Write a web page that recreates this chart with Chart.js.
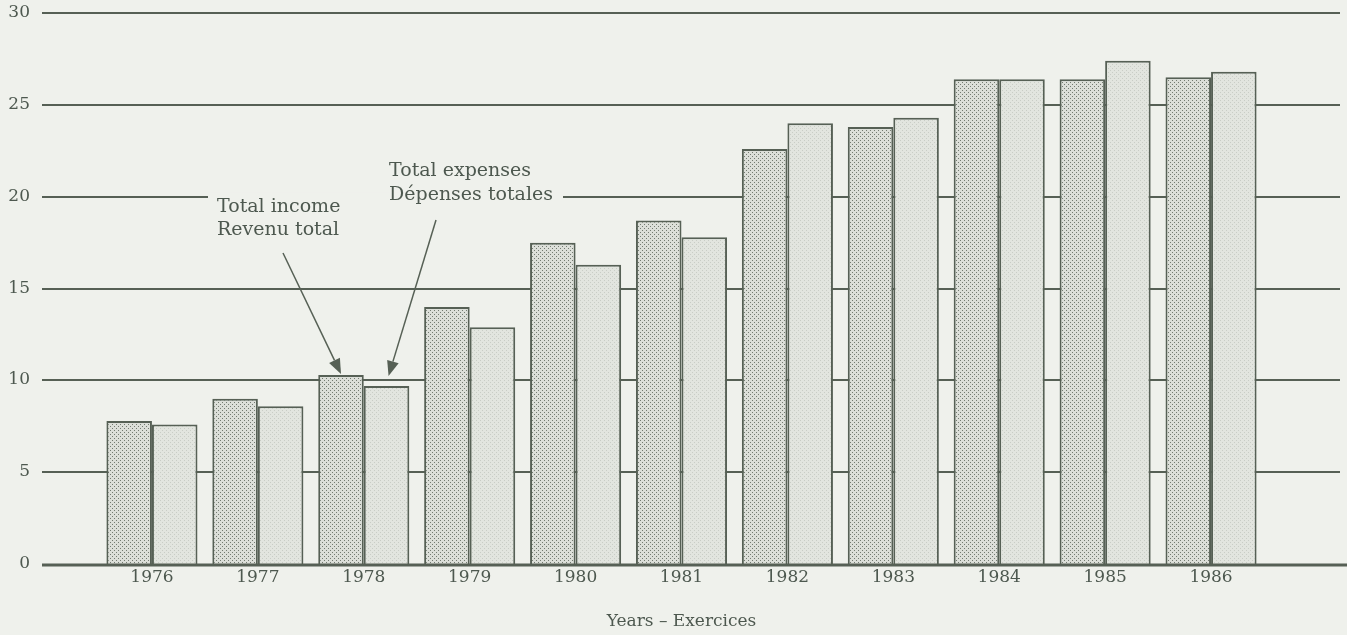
<!DOCTYPE html>
<html>
<head>
<meta charset="utf-8">
<script src="https://cdn.jsdelivr.net/npm/chart.js@4.4.0/dist/chart.umd.min.js"></script>
<style>
  html, body { margin: 0; padding: 0; background: #eff1ec; }
  canvas { display: block; }
</style>
</head>
<body>
<canvas id="chart" width="1347" height="635"></canvas>
<script>
const years = ['1976', '1977', '1978', '1979', '1980', '1981', '1982', '1983', '1984', '1985', '1986'];
const totalIncome = [7.8, 9.0, 10.3, 14.0, 17.5, 18.7, 22.6, 23.8, 26.4, 26.4, 26.5];
const totalExpenses = [7.6, 8.6, 9.7, 12.9, 16.3, 17.8, 24.0, 24.3, 26.4, 27.4, 26.8];
const incomeNote = ['Total income', 'Revenu total'];
const expensesNote = ['Total expenses', 'Dépenses totales'];
const axisTitle = 'Years – Exercices';

const INK = '#566055';
const TEXT = '#4d584f';
const PAPER = '#eff1ec';
const SERIF = '"DejaVu Serif", "Liberation Serif", serif';

const ctx = document.getElementById('chart').getContext('2d');

function dotPattern(base, dot) {
  const c = document.createElement('canvas');
  c.width = 4;
  c.height = 4;
  const g = c.getContext('2d');
  g.fillStyle = base;
  g.fillRect(0, 0, 4, 4);
  g.fillStyle = dot;
  g.fillRect(0, 0, 1, 1);
  g.fillRect(2, 2, 1, 1);
  return ctx.createPattern(c, 'repeat');
}

function arrow(g, x1, y1, x2, y2) {
  const ang = Math.atan2(y2 - y1, x2 - x1);
  const len = 15, half = 6;
  const bx = x2 - len * Math.cos(ang), by = y2 - len * Math.sin(ang);
  g.beginPath();
  g.moveTo(x1, y1);
  g.lineTo(bx, by);
  g.stroke();
  g.beginPath();
  g.moveTo(x2, y2);
  g.lineTo(bx + half * Math.sin(ang), by - half * Math.cos(ang));
  g.lineTo(bx - half * Math.sin(ang), by + half * Math.cos(ang));
  g.closePath();
  g.fill();
}

// horizontal rules run past the plot on both sides, like the printed page
const paperGrid = {
  id: 'paperGrid',
  beforeDatasetsDraw(chart) {
    const g = chart.ctx;
    const y = chart.scales.y;
    g.save();
    g.strokeStyle = INK;
    g.lineWidth = 2;
    g.fillStyle = TEXT;
    g.font = '17px ' + SERIF;
    g.textAlign = 'right';
    g.textBaseline = 'middle';
    y.ticks.forEach(t => {
      const py = Math.round(y.getPixelForValue(t.value));
      g.fillText(String(t.value), 30, py);
      if (t.value === 0) return;
      g.beginPath();
      g.moveTo(42, py);
      g.lineTo(1340, py);
      g.stroke();
    });
    // the 20 rule is broken where the notes sit
    g.fillStyle = PAPER;
    g.fillRect(208, y.getPixelForValue(20) - 4, 355, 8);
    g.restore();
  },
  afterDatasetsDraw(chart) {
    const g = chart.ctx;
    const y = chart.scales.y;
    g.save();
    g.strokeStyle = INK;
    g.lineWidth = 3;
    const base = Math.round(y.getPixelForValue(0)) + 1;
    g.beginPath();
    g.moveTo(42, base);
    g.lineTo(1347, base);
    g.stroke();

    g.fillStyle = TEXT;
    g.font = '19px ' + SERIF;
    g.textBaseline = 'middle';
    g.textAlign = 'left';
    g.fillText(incomeNote[0], 217, 207);
    g.fillText(incomeNote[1], 217, 230);
    g.fillText(expensesNote[0], 389, 171);
    g.fillText(expensesNote[1], 389, 195);

    const inc = chart.getDatasetMeta(0).data[2];
    const exp = chart.getDatasetMeta(1).data[2];
    g.strokeStyle = INK;
    g.fillStyle = INK;
    g.lineWidth = 1.5;
    arrow(g, 283, 253, inc.x, inc.y - 1);
    arrow(g, 436, 220, exp.x + 2, exp.y - 10);
    g.restore();
  }
};

new Chart(ctx, {
  type: 'bar',
  data: {
    labels: years,
    datasets: [
      {
        label: 'Total income',
        data: totalIncome,
        backgroundColor: dotPattern('#dcdfd9', '#737b71'),
        borderColor: INK,
        borderWidth: 2,
        barPercentage: 1,
        categoryPercentage: 0.86
      },
      {
        label: 'Total expenses',
        data: totalExpenses,
        backgroundColor: dotPattern('#e2e5df', '#c9cdc6'),
        borderColor: INK,
        borderWidth: 2,
        barPercentage: 1,
        categoryPercentage: 0.86
      }
    ]
  },
  options: {
    responsive: false,
    animation: false,
    layout: { padding: { left: 91, right: 83, top: 13, bottom: 3 } },
    plugins: {
      legend: { display: false },
      tooltip: { enabled: false }
    },
    scales: {
      x: {
        grid: { display: false, drawTicks: false },
        border: { display: false },
        ticks: { color: TEXT, font: { family: SERIF, size: 17 }, padding: 3 },
        title: {
          display: true,
          text: axisTitle,
          color: TEXT,
          font: { family: SERIF, size: 17 },
          padding: { top: 21, bottom: 0 }
        }
      },
      y: {
        min: 0,
        max: 30,
        grid: { display: false },
        border: { display: false },
        ticks: { stepSize: 5, display: false }
      }
    }
  },
  plugins: [paperGrid]
});
</script>
</body>
</html>
